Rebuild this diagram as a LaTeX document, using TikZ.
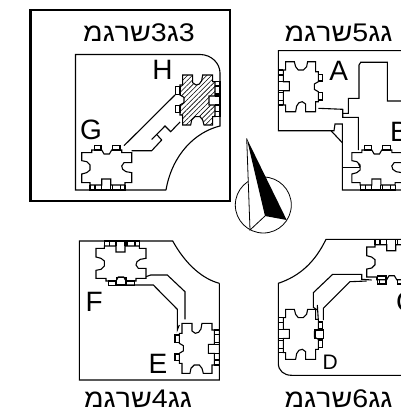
\documentclass[tikz,border=0pt]{standalone}
\usepackage{fontspec}
\usetikzlibrary{patterns.meta}
\setmainfont{Liberation Sans}
\newfontfamily\hebfont[Script=Hebrew,FakeStretch=1.12]{Liberation Sans}
\newcommand\hebvis[7]{{\hebfont\hbox{#1}\hbox{#2}\hbox{#3}\hbox{#4}\hbox{#5}\hbox{#6}\hbox{#7}}}
\newcommand\myblock[2]{%
\begin{scope}[#1,scale=1/3]
 \draw[bline,#2] (-75,-52)--(-45,-52)--(-45,-60)--(-15,-60)--(-8,-48)--(8,-48)--(15,-60)--(45,-60)--(45,-52)--(75,-52)
  --(75,-22)--(52,-22)--(45,-12)--(48,-2)--(58,5)--(75,8)--(75,38)--(55,38)--(55,45)--(12,45)--(12,27)--(-15,27)--(-15,45)--(-50,45)--(-50,38)--(-75,38)--(-75,12)--(-60,8)--(-50,0)--(-50,-15)--(-60,-25)--(-75,-28)--cycle;
 \draw[bline] (-37,-60) rectangle (-17,-73);
 \draw[bline] (17,-60) rectangle (40,-73);
 \draw[bline] (-50,45)--(-50,60)--(55,60)--(55,45);
 \draw[bline] (-35,45)--(-35,60) (-15,45)--(-15,60) (12,45)--(12,60) (18,45)--(18,60) (42,45)--(42,60);
\end{scope}}
\tikzset{
 bline/.style={line width=1.1pt,line join=miter},
 wall/.style={line width=1.1pt},
 frame/.style={line width=2.6pt},
 letter/.style={font=\fontsize{28}{28}\selectfont,inner sep=0pt},
 small letter/.style={font=\fontsize{21}{21}\selectfont,inner sep=0pt},
 title/.style={font=\fontsize{25.5}{25.5}\selectfont,inner sep=0pt},
 hatched/.style={pattern={Lines[angle=45,distance=3.4pt,line width=0.6pt]}},
}
\begin{document}
\begin{tikzpicture}[x=1pt,y=-1pt]
\useasboundingbox (0,0) rectangle (401,412);
\clip (0,0) rectangle (401,412);
% panel 1
\draw[frame] (30.7,10) rectangle (230,201);
\node[title] (t1) at (139,33) {\hebvis{מ}{ג}{ר}{ש}{3}{ג}{3}};
\draw[wall] (166,190)--(75.5,190)--(75.5,54.5)--(200,54.5) .. controls (211,54.5) and (220,63) .. (220,73) --(220,126)
  .. controls (195,132) and (172,155) .. (166,190);
\myblock{shift={(106.7,170)}}{}
\myblock{shift={(200,100)},rotate=90}{hatched}
\draw[wall] (124,145.7)--(175,95);
\draw[wall] (131.7,150.7)--(151.7,150.7)--(161.7,140)--(156.7,134.5);
\draw[wall] (151.7,139.5)--(165,126)--(170.7,131.7)--(180,122);
\node[letter] (H) at (162.5,70) {H};
\node[letter] (G) at (91,130) {G};
% panel 2
\node[title] (t2) at (338.5,33) {\hebvis{מ}{ג}{ר}{ש}{5}{ג}{ג}};
\draw[wall] (410,50.7)--(278.3,50.7)--(278.3,130.7)--(334,130.7)--(335,124)--(342.3,124)--(342.3,190)--(410,190);
\myblock{shift={(298.3,86.7)},rotate=-90}{}
\myblock{shift={(376.8,170)}}{}
\draw[wall] (318.3,108.3)--(342.7,109.3)--(342.7,117.3)--(358.3,117.3)--(358.3,150);
\draw[wall] (342.7,113.3)--(348.3,113.3)--(348.3,98.3)--(359,98.3)--(359,65)--(360.7,62.3)--(387.3,62.3)--(387.3,101)--(410,101);
\draw[wall] (331,130.7)--(342.3,142.7);
\draw[wall] (342.3,167.3)--(360,167.3);
\draw[wall] (358.3,163.3)--(360,167);
\node[letter] (A) at (338.7,71) {A};
\node[letter,anchor=west] (B) at (390,131.7) {B};
% panel 3
\draw[wall] (219.3,283.3)--(219.3,380)--(79.3,380)--(79.3,241)--(172.7,241)
  .. controls (186,265) and (203,279) .. (219.3,283.3);
\myblock{shift={(121,261)},yscale=-1}{}
\draw[bline] (116.7,277.3) rectangle (126,285);
\myblock{shift={(199.3,348.3)},rotate=90}{}
\draw[wall] (146,276.7)--(150.7,275)--(167.3,275)--(185,291.7)--(185,319.3);
\draw[wall] (115,285)--(153.3,285)--(177.3,309.3)--(177.3,330)--(179.3,325);
\node[letter] (F) at (94.2,301.7) {F};
\node[letter] (E) at (158,364) {E};
\node[title] (t3) at (138,399) {\hebvis{מ}{ג}{ר}{ש}{4}{ג}{ג}};
% panel 4
\draw[wall] (410,239.3)--(326,239.3) .. controls (315,262) and (300,276) .. (278.3,283.3)--(278.3,363)
  .. controls (278.3,371) and (284,375.3) .. (291.7,375.3)--(410,375.3);
\myblock{shift={(298.3,334.3)},rotate=-90}{}
\draw[bline] (315,330) rectangle (323.3,338.3);
\myblock{shift={(391.7,259.7)},yscale=-1}{}
\draw[bline] (377.3,276) rectangle (386,284);
\draw[wall] (317.3,310)--(313.3,307.3)--(313.3,292.7)--(332.7,274.3)--(361.7,274.3)--(361.7,279.3)--(371.7,280);
\draw[wall] (323.3,320)--(323.3,308.3)--(350,281.7)--(366.7,281);
\draw[wall] (317.3,305)--(318.3,320);
\node[small letter] (D) at (330.3,362) {D};
\node[letter,anchor=west] (C) at (396,301.7) {C};
\node[title] (t4) at (338.5,399) {\hebvis{מ}{ג}{ר}{ש}{6}{ג}{ג}};
% compass
\node[circle,draw,line width=0.8pt,minimum size=56pt,inner sep=0pt] (comp) at (263.3,205) {};
\coordinate (tip) at (246.7,138.3);
\coordinate (mid) at (265,216);
\coordinate (rgt) at (286.7,220);
\coordinate (lft) at (250,230);
\fill[white] (tip)--(mid)--(lft)--cycle;
\fill[black] (tip)--(mid)--(rgt)--cycle;
\draw[line width=0.8pt] (tip)--(lft)--(mid);
\end{tikzpicture}
\end{document}
